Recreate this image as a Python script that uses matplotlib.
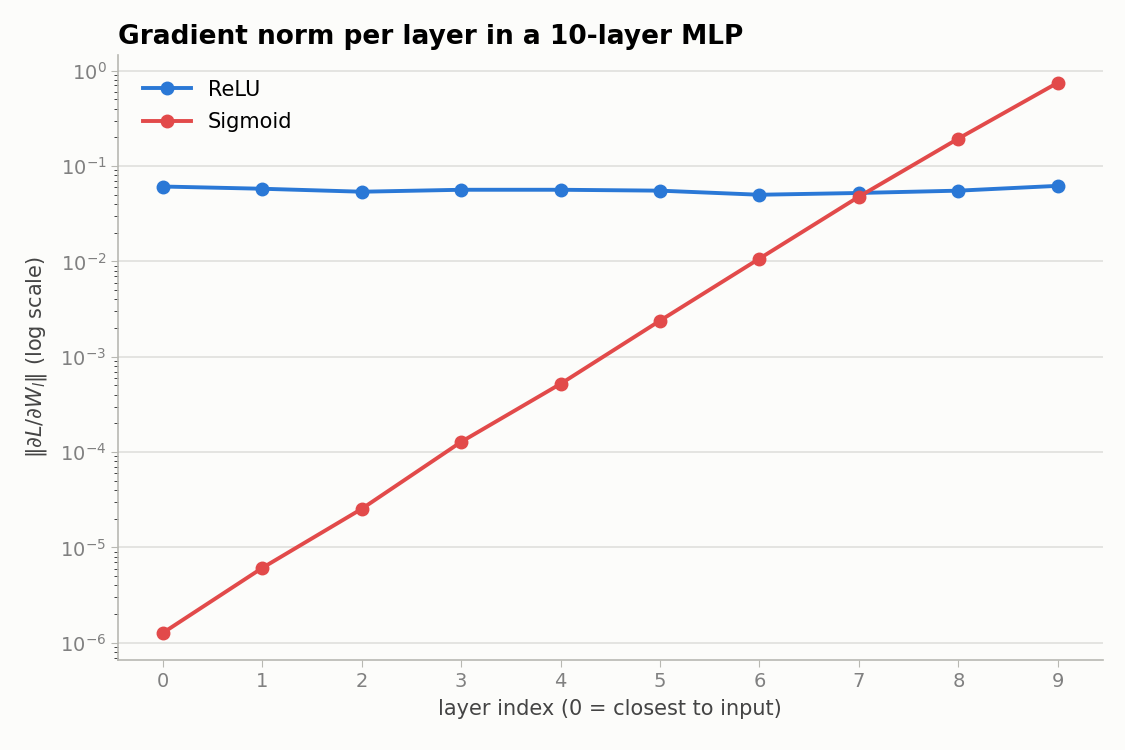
import matplotlib
matplotlib.use("Agg")
import matplotlib.pyplot as plt
from matplotlib.ticker import NullFormatter

layers = list(range(10))
relu = [0.061, 0.0578, 0.0538, 0.0564, 0.0564, 0.0552, 0.0500, 0.0522, 0.0552, 0.0620]
sigmoid = [1.27e-6, 6.1e-6, 2.54e-5, 1.28e-4, 5.2e-4, 2.39e-3, 1.07e-2, 4.77e-2, 0.194, 0.748]

bg = "#fcfcfa"
fig, ax = plt.subplots(figsize=(11.25, 7.5), dpi=100)
fig.patch.set_facecolor(bg)
ax.set_facecolor(bg)

ax.plot(layers, relu, color="#2a78d6", lw=2.8, marker="o", ms=9, label="ReLU")
ax.plot(layers, sigmoid, color="#e24a4a", lw=2.8, marker="o", ms=9, label="Sigmoid")

ax.set_yscale("log")
ax.set_ylim(6.6e-7, 1.47)
ax.set_xlim(-0.45, 9.45)
ax.set_xticks(layers)
ax.yaxis.set_minor_formatter(NullFormatter())

ax.grid(axis="y", color="#e0e0dc", lw=1.2)
ax.set_axisbelow(True)
for s in ["top", "right"]:
    ax.spines[s].set_visible(False)
for s in ["left", "bottom"]:
    ax.spines[s].set_color("#b8b8b2")
    ax.spines[s].set_linewidth(1.2)

ax.tick_params(axis="both", which="major", labelsize=14, labelcolor="#808080", color="#b8b8b2", length=5)
ax.tick_params(axis="y", which="minor", color="#222222", length=3)

ax.set_xlabel("layer index (0 = closest to input)", fontsize=15, color="#444444", labelpad=6)
ax.set_ylabel(r"$\|\partial L/\partial W_l\|$ (log scale)", fontsize=15, color="#444444", labelpad=8)
ax.set_title("Gradient norm per layer in a 10-layer MLP", fontsize=19, fontweight="bold",
             loc="left", pad=8)

ax.legend(loc="upper left", fontsize=15, frameon=False, handlelength=2.3,
          labelspacing=0.6, borderaxespad=0.8)

fig.subplots_adjust(left=0.105, right=0.98, top=0.927, bottom=0.12)
fig.savefig("out.png", dpi=100, facecolor=bg)
